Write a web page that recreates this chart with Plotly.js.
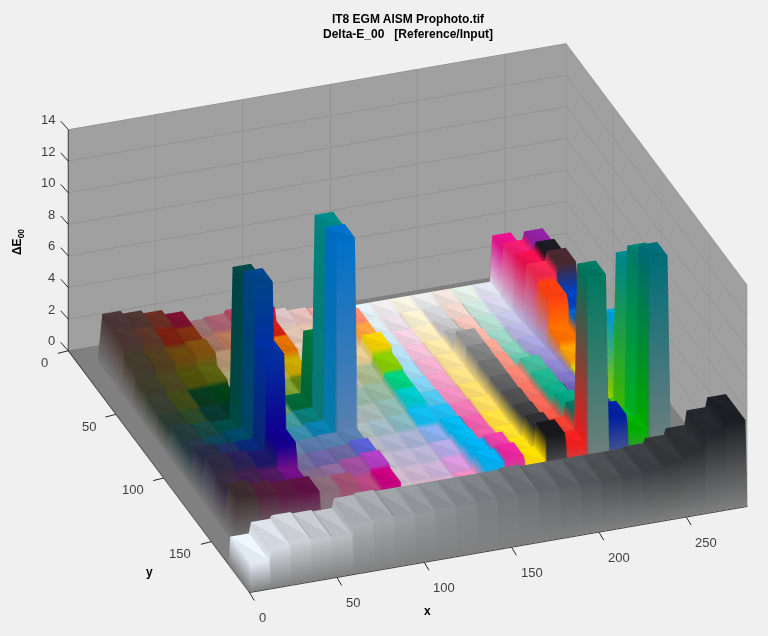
<!DOCTYPE html>
<html><head><meta charset="utf-8">
<script src="https://cdn.plot.ly/plotly-3.0.1.min.js"></script>
<style>html,body{margin:0;padding:0;background:#f0f0f0}</style></head>
<body><div id="chart" style="width:768px;height:636px"></div>
<script>
const patchColors = [
['#4a3638','#4e3530','#6a2e25','#7a1030','#9a7070','#a86070','#c04060','#d40060','#d8c0c0','#e0bcb8','#eca8a0','#ff8a70','#e0ecf4','#ece8ec','#f4f0e0','#e8e8e8','#f0e0dc','#e0ece4','#e0e0ee','#e8108c','#c0b8d8','#d0c0c8'],
['#4c3632','#5a3628','#7a2010','#803010','#a07060','#b8765a','#c86030','#d02010','#dcc0b0','#e0c0a8','#ecb49c','#ff8a68','#dce8f0','#e8dce4','#f6eed0','#d4d4d6','#f0d4cc','#cce4dc','#d4d4ea','#f01c70','#9020a0','#c8a8b0'],
['#443a2c','#503e20','#6a4810','#805010','#b09070','#c09060','#d08030','#e07000','#e0c8b4','#e4cca8','#ecc0a0','#ffa040','#c8e4f0','#f0d0e0','#f8eac0','#c4c4c6','#f4c4b8','#b4dccf','#c4c4e4','#ee1050','#1a1a20','#b89090'],
['#3e3c2c','#4a4420','#50500c','#5a6010','#a8a078','#b0a060','#c0a830','#c8a800','#dcccb0','#dccca4','#e4cc90','#f4d000','#b4dcf0','#f0c0d8','#fae6a8','#b0b0b2','#f4b4a4','#9cd4c4','#b8b4e0','#f02850','#4a2830','#b06050'],
['#383e30','#404a18','#0a3a20','#004018','#98a878','#90a860','#80a030','#608010','#c8c0a8','#c0c0a0','#a8b88c','#88cc00','#a0d8f0','#f0b0d0','#fae298','#989898','#f4a494','#84ccb8','#a8a4dc','#ff4010','#0040c0','#b05040'],
['#2c3c30','#2a4828','#083a30','#003828','#80a088','#60a070','#006838','#007840','#a8b4a8','#98b4a4','#98b8a0','#00d080','#80d0f0','#f0a0c8','#fae088','#808080','#f49484','#68c4ac','#9c94d4','#ff7000','#0060c8','#b05040'],
['#243c3c','#184844','#004c48','#004848','#70a0a0','#409898','#0a7c78','#008888','#aab4b0','#a4b8b4','#90b8b0','#00c8c8','#50c4ec','#f090c0','#fcdc70','#707070','#f48474','#44bc9c','#8c84cc','#ffa000','#0070d0','#c07060'],
['#243844','#104458','#004868','#004488','#6898a8','#388ca8','#0880b0','#0070c8','#aab8b8','#a0b8c4','#88b8c0','#10bcec','#20bcf0','#ec78b4','#fcdc60','#606062','#f47464','#20b490','#7c74c4','#d8d800','#0090e0','#d09090'],
['#282c44','#203060','#082878','#0030a0','#6880a0','#5878a8','#5880b0','#5880b0','#b4b4c0','#aeb4cc','#a8b0d0','#88aee8','#00b8ec','#ec60ac','#fedc40','#505052','#f46858','#10ac88','#6c64bc','#90d000','#00a0d8','#d8a0a0'],
['#2e2a44','#2a2258','#1c1868','#100090','#706c98','#6c64a4','#6a68a0','#5860d0','#c0b8c8','#bcb4d0','#b8b4d4','#b4a8e4','#00b8ec','#ec60a8','#ffdc30','#404042','#f45848','#00a484','#5850b4','#40c000','#008c90','#e0a8b0'],
['#382a40','#40204c','#501860','#701088','#80688a','#8f6a9a','#a050a0','#b040c0','#c8b8c8','#c8b4cc','#c8b0d4','#d898dc','#00b0f0','#ea40a8','#ffdc10','#303032','#f04030','#007860','#3030a8','#00b820','#008070','#e0a8b8'],
['#3c2c30','#4e2038','#581840','#5e1044','#8a6a78','#a05070','#b84880','#c80080','#d0b8c4','#d4b4c4','#d8b0c8','#f08cc0','#00b0f0','#e828a0','#ffdc00','#18181c','#f02020','#007860','#0020a0','#00b000','#006e78','#e8b0c0']
];
const patchHeights = [
[3.1,2.9,2.7,2.4,1.7,1.8,2.0,2.6,1.5,1.3,1.2,1.6,0.9,0.9,0.9,0.9,0.9,0.9,0.9,3.8,1.0,1.0],
[3.0,2.8,2.5,2.4,1.6,1.6,1.7,1.9,1.2,1.2,1.3,1.8,0.9,0.9,1.0,1.0,1.0,0.9,0.9,4.3,4.8,1.5],
[2.3,2.2,2.3,2.6,1.6,1.6,1.7,1.9,1.3,1.3,1.4,1.8,1.0,1.0,1.0,1.2,1.1,1.0,1.0,4.6,5.1,2.0],
[1.8,1.8,1.8,1.9,1.3,1.3,1.4,1.5,1.2,1.2,1.5,2.2,1.0,1.0,1.1,1.6,1.3,1.0,1.2,4.9,5.5,2.6],
[1.6,1.6,1.6,1.6,1.2,1.2,1.2,1.3,1.1,1.1,1.2,1.8,1.0,1.1,1.2,2.5,1.6,1.2,1.4,4.6,3.8,3.1],
[1.5,1.4,1.5,1.6,1.2,1.2,1.4,5.3,1.0,1.0,1.1,1.6,1.1,1.1,1.2,2.5,1.7,1.5,1.6,2.8,3.6,3.1],
[1.8,1.7,1.6,11.2,1.3,1.3,1.4,13.6,1.0,1.0,1.1,1.6,1.2,1.2,1.3,2.5,1.8,2.3,1.8,2.5,3.8,2.5],
[1.8,1.8,2.0,11.9,1.4,1.5,1.6,13.8,1.0,1.0,1.1,1.3,1.3,1.3,1.4,2.5,1.8,2.4,2.0,2.2,4.0,1.8],
[2.4,2.3,2.3,8.3,1.7,1.7,1.8,1.9,1.0,1.0,1.0,1.1,1.5,1.4,1.4,2.6,1.9,2.5,2.4,2.0,6.6,1.2],
[2.8,2.8,2.6,3.7,1.8,1.9,2.0,2.2,1.0,1.0,1.0,1.2,1.7,1.5,1.5,2.7,2.0,3.0,2.6,2.0,11.2,1.0],
[2.4,2.4,2.3,2.2,1.9,2.0,2.2,2.4,1.0,1.0,1.0,1.1,2.0,2.2,1.7,3.0,2.5,3.4,3.5,2.4,12.6,0.9],
[3.0,2.8,2.6,2.6,2.4,2.4,1.9,2.2,1.0,1.0,1.0,1.2,2.3,2.5,2.0,3.5,2.6,13.1,4.0,2.9,13.6,0.8]
];
const grayColors = ['#e8f0f8','#d8dee6','#d0d4d8','#c4c8cc','#bcc0c4','#acb0b4','#a4a8ac','#9ca0a4','#94989c','#8c9094','#84888c','#7c8084','#74787c','#6c7074','#64686c','#5c6064','#54585c','#4c5054','#44484c','#3c4044','#343838','#2c3034','#24282c','#1c2024'];
const grayHeights = [1.8,2.5,2.7,2.6,2.5,3.1,3.2,3.1,3.1,3.1,3.1,3.1,3.1,3.2,3.1,3.1,3.1,3.1,3.1,3.2,3.5,3.9,4.8,5.4];
const xTicks = [0,50,100,150,200,250];
const yTicks = [0,50,100,150];
const zTicks = [0,2,4,6,8,10,12,14];
const floorColor = '#808080';
const rng = {x:[0,285], y:[190,0], z:[0,14]};

function hex(c){return [1,3,5].map(i=>parseInt(c.substr(i,2),16));}
function buildMesh(H,C,x0,dx,y0,dy,m,opts){
  const nr=H.length,nc=H[0].length,xs=[],ys=[];
  xs.push(x0-opts.edge); for(let c=0;c<nc;c++){xs.push(x0+c*dx+m,x0+(c+1)*dx-m);} xs.push(x0+nc*dx+opts.edge);
  ys.push(y0-opts.edge); for(let r=0;r<nr;r++){ys.push(y0+r*dy+m,y0+(r+1)*dy-m);} ys.push(y0+nr*dy+opts.edgeFront);
  const cell=(j,i)=>{ if(i===0||j===0||i===xs.length-1||j===ys.length-1) return null; return [Math.floor((j-1)/2),Math.floor((i-1)/2)]; };
  const zAt=(j,i)=>{const k=cell(j,i);return k?H[k[0]][k[1]]:0;};
  const cAt=(j,i)=>{const k=cell(j,i);return hex(k?C[k[0]][k[1]]:floorColor);};
  const X=[],Y=[],Z=[],V=[],I=[],J=[],K=[];
  function tri(a,b,c,flatBoost){
    const P=[a,b,c].map(p=>[xs[p[1]],ys[p[0]],zAt(p[0],p[1])]);
    const u=[P[1][0]-P[0][0],P[1][1]-P[0][1],P[1][2]-P[0][2]],w=[P[2][0]-P[0][0],P[2][1]-P[0][1],P[2][2]-P[0][2]];
    let nx=u[1]*w[2]-u[2]*w[1],ny=u[2]*w[0]-u[0]*w[2],nz=u[0]*w[1]-u[1]*w[0];
    if(nz<0){nx=-nx;ny=-ny;nz=-nz;}
    let s;
    if(Math.abs(nx)<1e-9&&Math.abs(ny)<1e-9) s=flatBoost;
    else if(Math.abs(nx)>Math.abs(ny)) s=nx<0?0.95:0.82;
    else s=ny>0?1.0:0.85;
    const base=X.length;
    [a,b,c].forEach((p,q)=>{
      X.push(P[q][0]);Y.push(P[q][1]);Z.push(P[q][2]);
      const col=cAt(p[0],p[1]);
      V.push('rgb('+col.map(v=>Math.min(255,Math.round(v*s))).join(',')+')');
    });
    I.push(base);J.push(base+1);K.push(base+2);
  }
  for(let j=0;j<ys.length-1;j++)for(let i=0;i<xs.length-1;i++){
    tri([j,i],[j,i+1],[j+1,i+1],1.03);
    tri([j,i],[j+1,i+1],[j+1,i],0.97);
  }
  return {type:'mesh3d',x:X,y:Y,z:Z,i:I,j:J,k:K,vertexcolor:V,flatshading:true,hoverinfo:'skip',
    lighting:{ambient:1,diffuse:0,specular:0,roughness:1,fresnel:0},showscale:false};
}
const floorTrace={type:'mesh3d',x:[0,285,285,0],y:[0,0,190,190],z:[0.02,0.02,0.02,0.02],i:[0,0],j:[1,2],k:[2,3],color:floorColor,
  lighting:{ambient:1,diffuse:0,specular:0,roughness:1,fresnel:0},hoverinfo:'skip',showscale:false};
const main=buildMesh(patchHeights,patchColors,12,11.75,12,12,0.6,{edge:1.2,edgeFront:1.2});
const gray=buildMesh([grayHeights],[grayColors],0,285/24,168,21.6,0.6,{edge:0,edgeFront:0.4});

const axisFont={family:'Liberation Sans, Arial, sans-serif',size:13,color:'#404040'};
function ax(range,dtick,wall){return {range:range,dtick:dtick,tick0:0,title:{text:''},showgrid:true,gridcolor:'#858585',gridwidth:1,showticklabels:false,
  showbackground:true,backgroundcolor:wall,showline:true,linecolor:'#262626',linewidth:2,zeroline:false,ticks:'',showspikes:false};}
const bold={family:'Liberation Sans, Arial, sans-serif',size:12,color:'#000'};
const tickLabel=(pt,v,dx,dy,xa)=>Object.assign({text:String(v),showarrow:false,xshift:dx,yshift:dy,font:axisFont,xanchor:xa,yanchor:'middle'},pt);
const tickMark=(pt,ax,ay)=>Object.assign({text:' ',showarrow:true,arrowhead:0,arrowwidth:1,arrowcolor:'#262626',standoff:0,ax:ax,ay:ay,font:{size:1}},pt);
const sceneNotes=[
  ...xTicks.map(v=>tickLabel({x:v,y:190,z:0},v,7,-25,'left')),
  ...yTicks.map(v=>tickLabel({x:0,y:v,z:0},v,-18,-12,'right')),
  ...zTicks.map(v=>tickLabel({x:0,y:0,z:v},v,-11,10,'right')),
  ...xTicks.map(v=>tickMark({x:v,y:190,z:0},6,10)),
  ...yTicks.map(v=>tickMark({x:0,y:v,z:0},-12,3)),
  ...zTicks.map(v=>tickMark({x:0,y:0,z:v},-9,-10))
];
const dirn={x:-0.594/1.66,y:-1.65/1.66,z:0.96/1.66};
const shift={x:-0.0705,y:0.0254,z:0};
Plotly.newPlot('chart',[floorTrace,main,gray],{
  width:768,height:636,margin:{l:0,r:0,t:0,b:0},paper_bgcolor:'#f0f0f0',showlegend:false,
  title:{text:'<b>IT8 EGM AISM Prophoto.tif</b><br><b>Delta-E_00 &nbsp; [Reference/Input]</b>',x:408/768,xanchor:'center',y:0.9645,yanchor:'middle',font:bold},
  scene:{domain:{x:[0,1],y:[0,1]},aspectmode:'manual',aspectratio:{x:1.664,y:1.683,z:0.793},annotations:sceneNotes,
    xaxis:ax(rng.x,50,'#a0a0a0'),yaxis:ax(rng.y,50,'#a0a0a0'),zaxis:ax(rng.z,2,'#a0a0a0'),
    camera:{projection:{type:'orthographic'},up:{x:0,y:0,z:1},center:shift,eye:{x:dirn.x+shift.x,y:dirn.y+shift.y,z:dirn.z+shift.z}}},
  annotations:[
   {text:'<b>x</b>',x:427/768,y:1-611/636,xref:'paper',yref:'paper',xanchor:'center',yanchor:'middle',showarrow:false,font:bold},
   {text:'<b>y</b>',x:149/768,y:1-572/636,xref:'paper',yref:'paper',xanchor:'center',yanchor:'middle',showarrow:false,font:bold},
   {text:'<b>\u0394E<sub>00</sub></b>',x:18/768,y:1-242/636,xref:'paper',yref:'paper',xanchor:'center',yanchor:'middle',showarrow:false,textangle:-90,font:bold}
  ]
},{displayModeBar:false});
</script></body></html>
